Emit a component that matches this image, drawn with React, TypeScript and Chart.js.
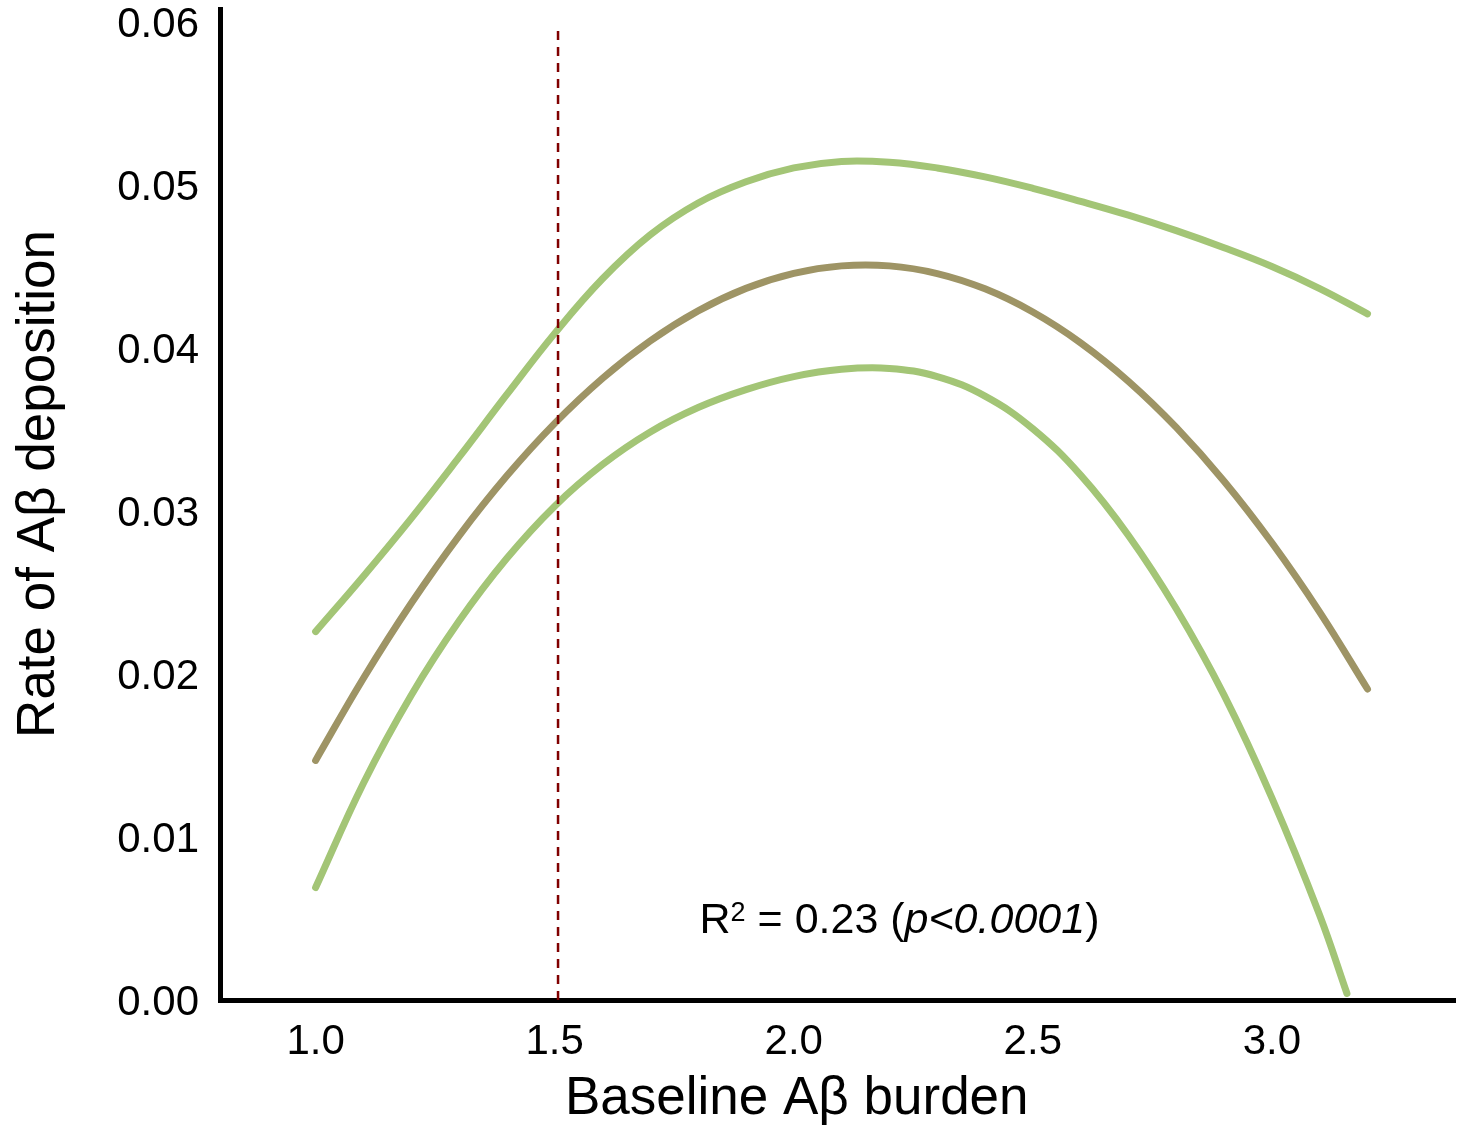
import React, { useEffect, useRef } from "react";
import { Chart, registerables } from "chart.js";

Chart.register(...registerables);

// ---- data ----
const xValues = [1.0, 1.1, 1.2, 1.3, 1.4, 1.5, 1.6, 1.7, 1.8, 1.9, 2.0, 2.1, 2.2, 2.3, 2.4, 2.5, 2.6, 2.7, 2.8, 2.9, 3.0, 3.1, 3.2];
const upperBand = [0.0226, 0.026, 0.02955, 0.0333, 0.03715, 0.0409, 0.04425, 0.04695, 0.0489, 0.0502, 0.05105, 0.05145, 0.0514, 0.05105, 0.0505, 0.0498, 0.049, 0.04815, 0.0472, 0.04615, 0.045, 0.04365, 0.0421];
const fitLine = [0.0147, 0.01974, 0.02434, 0.02848, 0.03216, 0.03538, 0.03814, 0.04044, 0.04228, 0.04366, 0.04458, 0.04504, 0.04504, 0.04457, 0.04363, 0.04221, 0.04032, 0.03796, 0.03513, 0.03183, 0.02805, 0.0238, 0.01908];
const lowerX = [1.0, 1.1, 1.2, 1.3, 1.4, 1.5, 1.6, 1.7, 1.8, 1.9, 2.0, 2.1, 2.2, 2.3, 2.4, 2.5, 2.6, 2.7, 2.8, 2.9, 3.0, 3.1, 3.157];
const lowerBand = [0.0069, 0.0133, 0.0187, 0.02325, 0.0271, 0.0303, 0.03285, 0.03485, 0.03635, 0.03745, 0.03825, 0.0387, 0.03875, 0.03825, 0.03705, 0.03505, 0.0322, 0.0285, 0.024, 0.0187, 0.0124, 0.0052, 0.0004];
const thresholdX = [1.507, 1.507];
const thresholdY = [0, 0.0596];
const xTicks = [1.0, 1.5, 2.0, 2.5, 3.0];
const yTicks = [0, 0.01, 0.02, 0.03, 0.04, 0.05, 0.06];
const xTitle = "Baseline A\u03b2 burden";
const yTitle = "Rate of A\u03b2 deposition";
const annotX = 1.803;
const annotY = 0.0041;

const FONT = '"Liberation Sans", Arial, Helvetica, sans-serif';
const GREEN = "#a3c576";
const OLIVE = "#9e9465";

const toPoints = (xs: number[], ys: number[]) => xs.map((x, i) => ({ x, y: ys[i] }));

const textPlugin = {
  id: "customText",
  afterDraw(chart: any) {
    const { ctx, scales } = chart;
    const xs = scales.x;
    const ys = scales.y;
    ctx.save();
    ctx.fillStyle = "#000";

    // annotation: R² = 0.23 (p<0.0001)
    let px = xs.getPixelForValue(annotX);
    const py = ys.getPixelForValue(annotY);
    ctx.textAlign = "left";
    ctx.textBaseline = "alphabetic";
    const normal = `43px ${FONT}`;
    const italic = `italic 43px ${FONT}`;
    const sup = `27px ${FONT}`;
    const segs = [
      { t: "R", f: normal, dy: 0 },
      { t: "2", f: sup, dy: -12 },
      { t: " = 0.23 (", f: normal, dy: 0 },
      { t: "p<0.0001", f: italic, dy: 0 },
      { t: ")", f: normal, dy: 0 },
    ];
    for (const s of segs) {
      ctx.font = s.f;
      ctx.fillText(s.t, px, py + s.dy);
      px += ctx.measureText(s.t).width;
    }

    // x title, centred on tick range
    const cx = (xs.getPixelForValue(xTicks[0]) + xs.getPixelForValue(xTicks[xTicks.length - 1])) / 2 + 3;
    ctx.font = `53px ${FONT}`;
    ctx.textAlign = "center";
    ctx.textBaseline = "middle";
    ctx.fillText(xTitle, cx, 1099);

    // y title
    ctx.translate(39, 484);
    ctx.rotate(-Math.PI / 2);
    ctx.fillText(yTitle, 0, 0);
    ctx.restore();
  },
};

export default function App() {
  const canvasRef = useRef<HTMLCanvasElement | null>(null);

  useEffect(() => {
    if (!canvasRef.current) return;
    const lineBase = {
      pointRadius: 0,
      pointHoverRadius: 0,
      borderWidth: 7,
      fill: false,
      tension: 0.4,
      borderCapStyle: "round" as const,
      borderJoinStyle: "round" as const,
      order: 1,
    };
    const chart = new Chart(canvasRef.current, {
      type: "line",
      data: {
        datasets: [
          {
            label: "threshold",
            data: toPoints(thresholdX, thresholdY),
            borderColor: "#800000",
            borderWidth: 2.5,
            borderDash: [9, 7],
            pointRadius: 0,
            fill: false,
            order: 0,
          },
          { label: "upper", data: toPoints(xValues, upperBand), borderColor: GREEN, ...lineBase },
          { label: "fit", data: toPoints(xValues, fitLine), borderColor: OLIVE, ...lineBase },
          { label: "lower", data: toPoints(lowerX, lowerBand), borderColor: GREEN, ...lineBase },
        ],
      },
      options: {
        responsive: false,
        animation: false,
        events: [],
        layout: { padding: { top: 9, right: 3, left: 0, bottom: 0 } },
        plugins: { legend: { display: false }, tooltip: { enabled: false } },
        scales: {
          x: {
            type: "linear",
            min: 0.8,
            max: 3.383,
            grid: { display: false, drawTicks: false },
            border: { display: true, color: "#000", width: 5 },
            ticks: {
              padding: 17,
              color: "#000",
              font: { size: 42, family: FONT },
              callback: (v: any) => Number(v).toFixed(1),
            },
            afterBuildTicks: (s: any) => {
              s.ticks = xTicks.map((v) => ({ value: v }));
            },
            afterFit: (s: any) => {
              s.height = 127;
              s.paddingLeft = 0;
              s.paddingRight = 0;
            },
          },
          y: {
            type: "linear",
            min: 0,
            max: 0.0608,
            grid: { display: false, drawTicks: false },
            border: { display: true, color: "#000", width: 5 },
            ticks: {
              padding: 21,
              labelOffset: 3,
              color: "#000",
              font: { size: 42, family: FONT },
              callback: (v: any) => Number(v).toFixed(2),
            },
            afterBuildTicks: (s: any) => {
              s.ticks = yTicks.map((v) => ({ value: v }));
            },
            afterFit: (s: any) => {
              s.width = 220;
              s.paddingTop = 0;
              s.paddingBottom = 0;
            },
          },
        },
      },
      plugins: [textPlugin],
    });
    return () => chart.destroy();
  }, []);

  return (
    <div style={{ position: "absolute", left: 0, top: 0, width: 1458, height: 1127, background: "#fff" }}>
      <canvas ref={canvasRef} width={1458} height={1127} style={{ display: "block" }} />
    </div>
  );
}
